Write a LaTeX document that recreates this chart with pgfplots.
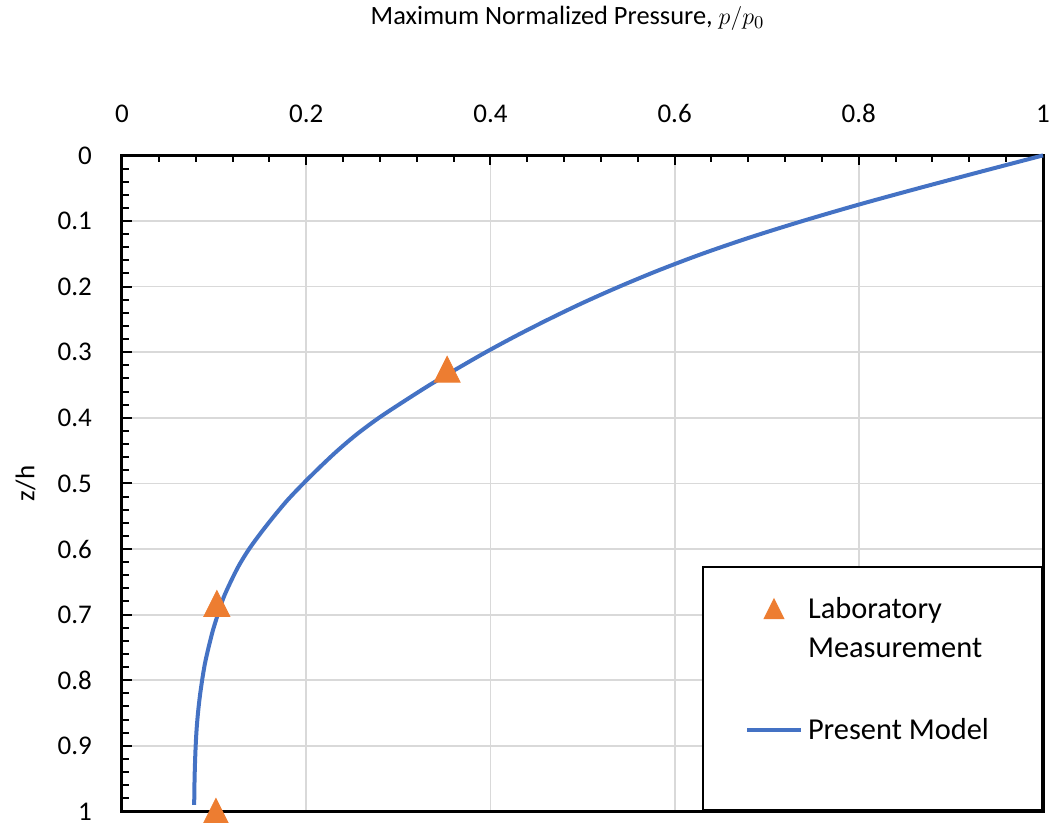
\documentclass[border=0pt]{standalone}
\usepackage{pgfplots}
\pgfplotsset{compat=1.18}
\usepackage{fontspec}
\setmainfont{Carlito}
\definecolor{mblue}{HTML}{4472C4}
\definecolor{morange}{HTML}{ED7D31}
\definecolor{gridc}{HTML}{D9D9D9}
\pgfplotsset{
  markleg/.style={legend image code/.code={\draw[##1, mark size=5.2pt] plot coordinates {(13.5pt,5.3pt)};}},
  lineleg/.style={legend image code/.code={\draw[##1] (0pt,4.35pt) -- (27pt,4.35pt);}},
}
\begin{document}
\begin{tikzpicture}
\begin{axis}[
  scale only axis, width=460.5pt, height=328pt,
  xmin=0, xmax=1, ymin=0, ymax=1, y dir=reverse,
  xtick={0,0.2,0.4,0.6,0.8,1},
  ytick={0,0.1,0.2,0.3,0.4,0.5,0.6,0.7,0.8,0.9,1},
  minor x tick num=4, minor y tick num=4,
  xtick pos=right, xticklabel pos=right,
  ytick pos=left, yticklabel pos=left,
  tick align=inside,
  major tick length=5pt, minor tick length=3.5pt,
  tick style={black, line width=1pt},
  grid=major, major grid style={gridc, line width=0.9pt},
  axis line style={black, line width=1.5pt},
  ticklabel style={font=\fontsize{13.5}{16}\selectfont},
  /pgf/number format/assume math mode=true,
  xticklabel style={yshift=13pt},
  yticklabel style={xshift=-11.5pt},
  ylabel={z/h},
  ylabel style={font=\fontsize{13.5}{16}\selectfont, at={(axis description cs:-0.1048,0.5)}, anchor=center},
  clip=false,
  legend style={at={(axis description cs:1,0)}, anchor=south east,
    draw=black, line width=1pt, fill=white,
    inner xsep=21pt, inner ysep=11.85pt,
    row sep=21.35pt, column sep=0pt,
    font=\fontsize{15.2}{19.5}\selectfont,
    cells={anchor=base west},
    nodes={inner xsep=2.5pt, inner ysep=0pt, text depth={}}},
]
\coordinate (BL) at (axis description cs:0,0);
\coordinate (TR) at (axis description cs:1,1);
\coordinate (TT) at (axis description cs:0.4837,1);
\addplot[only marks, mark=triangle*, color=morange, mark size=7.5pt,
  mark options={yshift=-2.16pt, yscale=1.15, draw=morange, fill=morange},
  markleg]
  coordinates {(0.353,0.326) (0.103,0.683) (0.102,1.0)};
\addlegendentry{\makebox[93.5pt][l]{\begin{tabular}[t]{@{}l@{}}Laboratory\\Measurement\end{tabular}}}
\addplot[color=mblue, line width=2pt, smooth, tension=0.5, mark=none, lineleg]
  coordinates {
  (1.000,0.000) (0.932,0.025) (0.865,0.050) (0.800,0.075) (0.739,0.100)
  (0.682,0.125) (0.630,0.150) (0.583,0.175) (0.540,0.200) (0.500,0.225)
  (0.463,0.250) (0.428,0.275) (0.395,0.300) (0.364,0.325) (0.334,0.350)
  (0.306,0.375) (0.279,0.400) (0.255,0.425) (0.234,0.450) (0.215,0.475)
  (0.197,0.500) (0.180,0.525) (0.165,0.550) (0.151,0.575) (0.138,0.600)
  (0.127,0.625) (0.118,0.650) (0.110,0.675) (0.104,0.700) (0.0985,0.725)
  (0.094,0.750) (0.090,0.775) (0.087,0.800) (0.0845,0.825) (0.0825,0.850)
  (0.081,0.875) (0.080,0.900) (0.0793,0.925) (0.0788,0.950) (0.0785,0.975)
  (0.0784,0.990)};
\addlegendentry{\makebox[93.5pt][l]{Present Model\rule[-23.8pt]{0pt}{37.45pt}}}
\end{axis}
\pgfresetboundingbox
\path ([xshift=-61pt,yshift=-5.5pt]BL) rectangle ([xshift=4.5pt,yshift=76pt]TR);
\node[anchor=base, font=\fontsize{13.2}{16}\selectfont] at ([yshift=65.2pt]TT) {Maximum Normalized Pressure, $p/p_0$};
\end{tikzpicture}
\end{document}
